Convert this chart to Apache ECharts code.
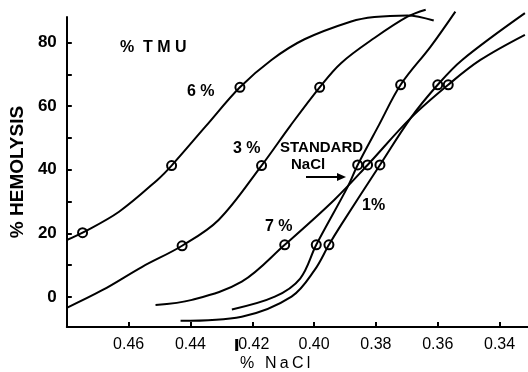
<!DOCTYPE html>
<html><head><meta charset="utf-8">
<script src="https://cdn.jsdelivr.net/npm/echarts@6/dist/echarts.min.js"></script>
<style>html,body{margin:0;padding:0;background:#fff}#c{width:528px;height:372px}</style>
</head><body><div id="c"></div>
<script>
// axis ticks
const xTicks = [0.46, 0.44, 0.42, 0.40, 0.38, 0.36, 0.34];
const yLabelTicks = [0, 20, 40, 60, 80];
const yTickMarks = [0, 10, 20, 30, 40, 50, 60, 70, 80];

// curve paths (% NaCl, % hemolysis)
const nacl6 = [0.48, 0.4749, 0.4631, 0.4507, 0.4461, 0.4351, 0.4240, 0.4138, 0.4031, 0.3880, 0.3805, 0.3698, 0.3613];
const hemo6 = [17.9, 20.2, 26.8, 36.8, 41.3, 53.6, 65.9, 74.5, 81.0, 86.6, 88.0, 88.5, 86.9];
const nacl3 = [0.48, 0.4684, 0.4556, 0.4427, 0.4309, 0.4170, 0.4077, 0.3982, 0.3913, 0.3805, 0.3698, 0.3639];
const hemo3 = [-3.4, 2.2, 9.5, 16.1, 24.2, 41.3, 53.8, 65.9, 73.5, 81.4, 88.1, 90.3];
const nacl7 = [0.4513, 0.4395, 0.4234, 0.4095, 0.3935, 0.3827, 0.3687, 0.3566, 0.3462, 0.3318];
const hemo7 = [-2.5, -0.9, 4.8, 16.4, 30.5, 41.5, 56.3, 66.7, 74.5, 82.4];
const nacl1 = [0.4432, 0.4234, 0.4073, 0.3998, 0.3952, 0.3913, 0.3787, 0.3687, 0.3600, 0.3521, 0.3318];
const hemo1 = [-7.5, -6.2, 0.1, 8.5, 16.4, 22.6, 41.5, 56.3, 66.7, 74.5, 89.2];
const naclS = [0.4266, 0.4127, 0.4045, 0.3993, 0.3891, 0.3859, 0.3790, 0.3720, 0.3623, 0.3543];
const hemoS = [-3.9, 0.1, 5.8, 16.4, 34.7, 41.5, 54.1, 66.7, 78.7, 89.7];

// measured points (circles)
const pts6Nacl = [0.4749, 0.4461, 0.4240];
const pts6Hemo = [20.2, 41.3, 65.9];
const pts3Nacl = [0.4427, 0.4170, 0.3982];
const pts3Hemo = [16.1, 41.3, 65.9];
const pts7Nacl = [0.4095, 0.3827, 0.3566];
const pts7Hemo = [16.4, 41.5, 66.7];
const pts1Nacl = [0.3952, 0.3787, 0.3600];
const pts1Hemo = [16.4, 41.5, 66.7];
const ptsSNacl = [0.3993, 0.3859, 0.3720];
const ptsSHemo = [16.4, 41.5, 66.7];

const zip = (a, b) => a.map((v, i) => [v, b[i]]);
const curves = [[nacl6, hemo6], [nacl3, hemo3], [nacl7, hemo7], [nacl1, hemo1], [naclS, hemoS]];
const points = [[pts6Nacl, pts6Hemo], [pts3Nacl, pts3Hemo], [pts7Nacl, pts7Hemo], [pts1Nacl, pts1Hemo], [ptsSNacl, ptsSHemo]];

const series = [];
curves.forEach(c => series.push({
  type: 'line', data: zip(c[0], c[1]), smooth: 0.35, showSymbol: false, clip: false,
  lineStyle: { color: '#000', width: 2 }, silent: true, z: 2
}));
points.forEach(p => series.push({
  type: 'scatter', data: zip(p[0], p[1]), symbol: 'circle', symbolSize: 9, clip: false,
  itemStyle: { color: 'rgba(255,255,255,0)', borderColor: '#000', borderWidth: 2, opacity: 1 }, z: 3
}));

const chart = echarts.init(document.getElementById('c'), null, { renderer: 'canvas' });
const F = 'Liberation Sans, Arial, sans-serif';
chart.setOption({
  animation: false,
  backgroundColor: '#fff',
  grid: { left: 64, right: 0, top: 17, bottom: 45 },
  xAxis: {
    type: 'value', inverse: true, min: 0.3308, max: 0.48,
    axisLine: { onZero: false, lineStyle: { color: '#000', width: 2 } },
    axisTick: { inside: true, length: 5, lineStyle: { color: '#000', width: 2 }, customValues: xTicks },
    axisLabel: {
      customValues: xTicks, margin: 10, color: '#000', fontFamily: F, fontSize: 16,
      formatter: v => Math.abs(v - 0.42) < 1e-6 ? '{bar|}' + v.toFixed(2) : v.toFixed(2),
      rich: { bar: { backgroundColor: '#000', width: 3, height: 12, padding: 0 } }
    },
    splitLine: { show: false }
  },
  yAxis: {
    type: 'value', min: -9.43, max: 88,
    name: '% HEMOLYSIS', nameLocation: 'middle', nameGap: 36,
    nameTextStyle: { color: '#000', fontFamily: F, fontSize: 19, fontWeight: 'bold' },
    axisLine: { onZero: false, lineStyle: { color: '#000', width: 2 } },
    axisTick: { inside: true, length: 5, lineStyle: { color: '#000', width: 2 }, customValues: yTickMarks },
    axisLabel: { customValues: yLabelTicks, margin: 10, color: '#000', fontFamily: F, fontSize: 17, fontWeight: 'bold' },
    splitLine: { show: false }
  },
  series: series,
  graphic: [
    { type: 'text', left: 120, top: 40, style: { text: '%  T M U', font: 'bold 16px ' + F, fill: '#000' } },
    { type: 'text', left: 187, top: 84, style: { text: '6 %', font: 'bold 16px ' + F, fill: '#000' } },
    { type: 'text', left: 233, top: 141, style: { text: '3 %', font: 'bold 16px ' + F, fill: '#000' } },
    { type: 'text', left: 280, top: 140, style: { text: 'STANDARD', font: 'bold 15px ' + F, fill: '#000' } },
    { type: 'text', left: 291, top: 157, style: { text: 'NaCl', font: 'bold 15px ' + F, fill: '#000' } },
    { type: 'text', left: 265, top: 219, style: { text: '7 %', font: 'bold 16px ' + F, fill: '#000' } },
    { type: 'text', left: 362, top: 198, style: { text: '1%', font: 'bold 16px ' + F, fill: '#000' } },
    { type: 'text', left: 240, top: 356, style: { text: '%\u2009\u2009 N\u2009a\u2009C\u2009l', font: '16px ' + F, fill: '#000' } },
    { type: 'line', shape: { x1: 306, y1: 177, x2: 338, y2: 177 }, style: { stroke: '#000', lineWidth: 2 } },
    { type: 'polygon', shape: { points: [[346, 177], [337, 173], [337, 181]] }, style: { fill: '#000' } }
  ]
});
</script></body></html>
